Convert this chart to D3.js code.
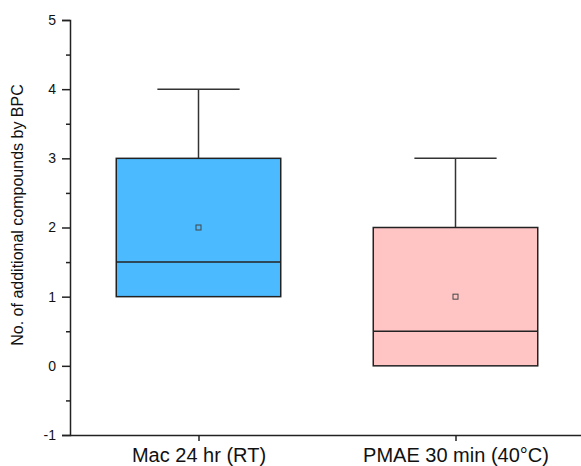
<!DOCTYPE html>
<html><head><meta charset="utf-8">
<script src="https://cdn.jsdelivr.net/npm/d3@7"></script>
<style>body{margin:0;background:#fff}svg{display:block}</style>
</head><body>
<script>
const categories = ["Mac 24 hr (RT)", "PMAE 30 min (40°C)"];
const minVals = [1, 0];
const q1Vals = [1, 0];
const medianVals = [1.5, 0.5];
const q3Vals = [3, 2];
const maxVals = [4, 3];
const meanVals = [2, 1];
const fills = ["#4BBAFF", "#FFC5C5"];
const yTicks = [-1, 0, 1, 2, 3, 4, 5];
const yMinorTicks = [-0.5, 0.5, 1.5, 2.5, 3.5, 4.5];

const W = 581, H = 466;
const svg = d3.select("body").append("svg").attr("width", W).attr("height", H);
const font = "'Liberation Sans', Arial, sans-serif";

const y = d3.scaleLinear().domain([-1, 5]).range([435, 20]);
const x = d3.scalePoint().domain(categories).range([70, 584]).padding(0.5);
const step = x.step();
const boxW = step * 0.64, capW = boxW / 2;

const data = categories.map((c, i) => ({c, min: minVals[i], q1: q1Vals[i], med: medianVals[i], q3: q3Vals[i], max: maxVals[i], mean: meanVals[i], fill: fills[i]}));
const g = svg.append("g");
data.forEach(d => {
  const cx = x(d.c);
  g.append("line").attr("x1", cx).attr("x2", cx).attr("y1", y(d.q3)).attr("y2", y(d.max)).attr("stroke", "#333").attr("stroke-width", 1.5);
  g.append("line").attr("x1", cx - capW/2).attr("x2", cx + capW/2).attr("y1", y(d.max)).attr("y2", y(d.max)).attr("stroke", "#333").attr("stroke-width", 1.5);
  if (d.min < d.q1) {
    g.append("line").attr("x1", cx).attr("x2", cx).attr("y1", y(d.q1)).attr("y2", y(d.min)).attr("stroke", "#333").attr("stroke-width", 1.5);
    g.append("line").attr("x1", cx - capW/2).attr("x2", cx + capW/2).attr("y1", y(d.min)).attr("y2", y(d.min)).attr("stroke", "#333").attr("stroke-width", 1.5);
  }
  g.append("rect").attr("x", cx - boxW/2).attr("y", y(d.q3)).attr("width", boxW).attr("height", y(d.q1) - y(d.q3))
    .attr("fill", d.fill).attr("stroke", "#222").attr("stroke-width", 1.5);
  g.append("line").attr("x1", cx - boxW/2).attr("x2", cx + boxW/2).attr("y1", y(d.med)).attr("y2", y(d.med)).attr("stroke", "#222").attr("stroke-width", 1.5);
  g.append("rect").attr("x", cx - 2.5).attr("y", y(d.mean) - 2.5).attr("width", 5).attr("height", 5)
    .attr("fill", "none").attr("stroke", "#444").attr("stroke-width", 1);
});

const yAxis = svg.append("g").attr("transform", "translate(70,0)")
  .call(d3.axisLeft(y).tickValues(yTicks).tickSize(8).tickPadding(6).tickFormat(d => String(d)));
svg.append("g").attr("transform", "translate(70,0)")
  .call(d3.axisLeft(y).tickValues(yMinorTicks).tickSize(4).tickFormat(""))
  .call(s => s.select(".domain").remove());
const xAxis = svg.append("g").attr("transform", "translate(0,435)")
  .call(d3.axisBottom(x).tickSize(6).tickSizeOuter(0).tickPadding(7));
xAxis.select(".domain").attr("d", "M70,0.5H581");

svg.selectAll(".domain, .tick line").attr("stroke", "#222").attr("stroke-width", 1.5);
yAxis.selectAll("text").attr("font-family", font).attr("font-size", 14).attr("fill", "#111");
xAxis.selectAll("text").attr("font-family", font).attr("font-size", 20).attr("fill", "#111");
svg.selectAll("g").attr("font-family", font);

svg.append("text").attr("transform", "translate(23,215) rotate(-90)").attr("text-anchor", "middle")
  .attr("font-family", font).attr("font-size", 16).attr("fill", "#111")
  .text("No. of additional compounds by BPC");
</script>
</body></html>
